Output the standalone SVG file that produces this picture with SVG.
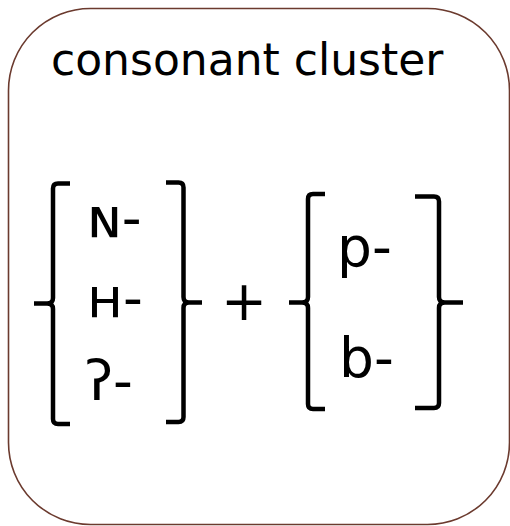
<svg xmlns="http://www.w3.org/2000/svg" width="510" height="526" viewBox="0 0 510 526">
<style>
.t{font-family:"DejaVu Sans",Verdana,sans-serif;fill:#000}
.br{fill:none;stroke:#000;stroke-width:4.5;stroke-linejoin:round}
</style>
<rect x="0" y="0" width="510" height="526" fill="#fff"/>
<g id="cluster">
<rect x="8.5" y="8.5" width="501" height="516" rx="82" ry="82" fill="#fff" stroke="#6b3a2e" stroke-width="1.6"/>
<text class="t" x="51" y="75" font-size="44">consonant cluster</text>
</g>
<g id="group1">
<path class="br" d="M70,183.5 H58 Q53,183.5 53,188.5 V298 Q53,303.5 47,303.5 H34 M47,303.5 Q53,303.5 53,309 V419 Q53,424 58,424 H70"/>
<path class="br" d="M166,182.5 H178.5 Q183.5,182.5 183.5,187.5 V297 Q183.5,302.5 189,302.5 H202 M189,302.5 Q183.5,302.5 183.5,308 V417 Q183.5,422 178.5,422 H166"/>
<text class="t" x="87" y="237" font-size="55">ɴ-</text>
<text class="t" x="87" y="317" font-size="55">ʜ-</text>
<text class="t" x="85" y="400" font-size="55">ʔ-</text>
</g>
<g id="plus">
<text class="t" x="244" y="320" font-size="55" text-anchor="middle">+</text>
</g>
<g id="group2">
<path class="br" d="M325,194 H313 Q308,194 308,199 V297 Q308,302.5 302,302.5 H289 M302,302.5 Q308,302.5 308,308 V404 Q308,409 313,409 H325"/>
<path class="br" d="M415,196.5 H434 Q439,196.5 439,201.5 V297 Q439,302.5 445,302.5 H463 M445,302.5 Q439,302.5 439,308 V403 Q439,408 434,408 H415"/>
<text class="t" x="337" y="266" font-size="55">p-</text>
<text class="t" x="339" y="377" font-size="55">b-</text>
</g>
<g id="connectors"></g>
</svg>
